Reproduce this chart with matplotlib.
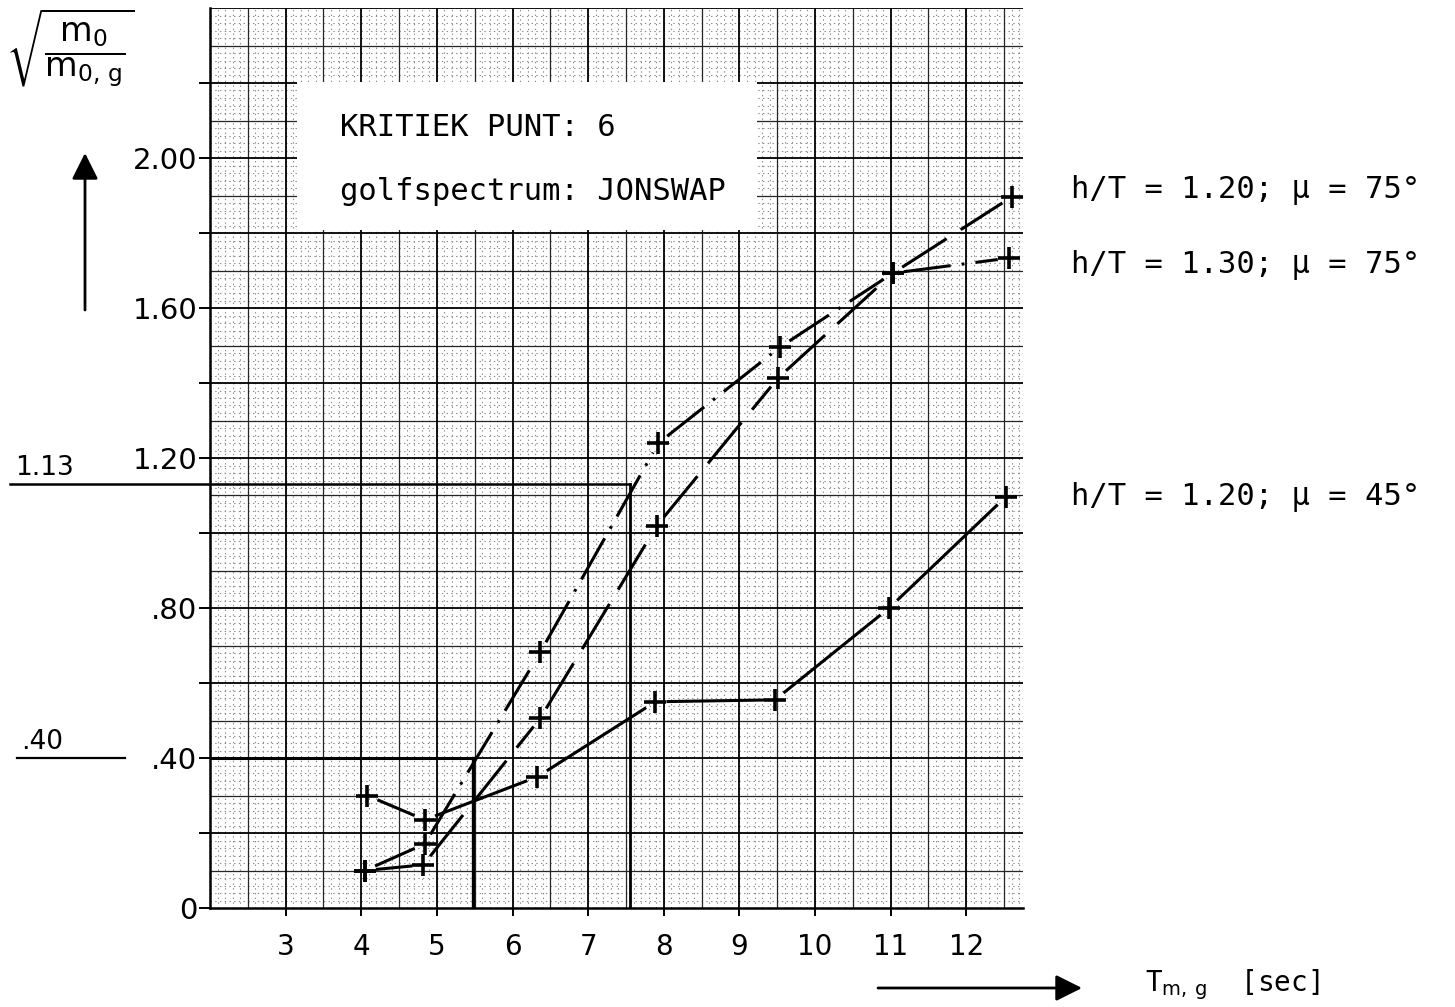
import numpy as np
import matplotlib
matplotlib.use('Agg')
import matplotlib.pyplot as plt
from matplotlib.patches import Rectangle

plt.rcParams['lines.scale_dashes'] = False
plt.rcParams['mathtext.fontset'] = 'dejavusans'

# T_m,g [sec] against sqrt(m0 / m0,g), one list pair per case
t_a = [4.05, 4.82, 6.37, 7.91, 9.51, 11.03, 12.60]
r_a = [0.10, 0.115, 0.507, 1.02, 1.413, 1.693, 1.896]
t_b = [4.05, 4.84, 6.37, 7.93, 9.54, 11.03, 12.56]
r_b = [0.10, 0.171, 0.683, 1.24, 1.496, 1.693, 1.733]
t_c = [4.08, 4.84, 6.33, 7.89, 9.47, 10.98, 12.52]
r_c = [0.30, 0.235, 0.35, 0.55, 0.555, 0.80, 1.096]

case_labels = ['h/T = 1.20; μ = 75°', 'h/T = 1.30; μ = 75°', 'h/T = 1.20; μ = 45°']
label_y = [1.915, 1.715, 1.096]

# read-off values for the critical point
low_t, low_r = 5.48, 0.40
high_t, high_r = 7.55, 1.13

x_ticks = [3, 4, 5, 6, 7, 8, 9, 10, 11, 12]
y_ticks = [0, 0.4, 0.8, 1.2, 1.6, 2.0]
y_ticklabels = ['0', '.40', '.80', '1.20', '1.60', '2.00']

fig = plt.figure(figsize=(14.55, 10.07), dpi=100)
ax = fig.add_axes([210 / 1455, 1 - 908 / 1007, 813 / 1455, 900 / 1007])
ax.set_xlim(2, 12.75)
ax.set_ylim(0, 2.4)

# graph paper: 1 mm dots, 5 mm and 10 mm lines
gx = np.round(np.arange(2, 12.75 + 1e-9, 0.1), 2)
gy = np.round(np.arange(0, 2.4 + 1e-9, 0.02), 2)
ax.vlines(gx, 0, 2.4, colors='0.55', lw=0.8, linestyles=(0, (1, 2.4)), zorder=0)
ax.hlines(gy, 2, 12.75, colors='0.55', lw=0.8, linestyles=(0, (1, 2.4)), zorder=0)
ax.vlines(np.arange(2.5, 12.6, 1.0), 0, 2.4, colors='0.15', lw=0.9, zorder=0.5)
ax.hlines(np.round(np.arange(0.1, 2.4, 0.2), 2), 2, 12.75, colors='0.15', lw=0.9, zorder=0.5)
ax.vlines(np.arange(3, 13, 1.0), 0, 2.4, colors='k', lw=1.3, zorder=0.6)
ax.hlines(np.round(np.arange(0.2, 2.41, 0.2), 2), 2, 12.75, colors='k', lw=1.3, zorder=0.6)

# white title field on the paper
ax.add_patch(Rectangle((3.15, 1.808), 6.085, 0.395, facecolor='white',
                       edgecolor='none', zorder=1))
ax.text(3.72, 2.08, 'KRITIEK PUNT: 6', family='DejaVu Sans Mono', fontsize=22,
        va='center', zorder=2)
ax.text(3.72, 1.91, 'golfspectrum: JONSWAP', family='DejaVu Sans Mono', fontsize=22,
        va='center', zorder=2)


def draw_case(t, r, dashes, gap=11):
    # hand-drawn style: each segment stops short of the plotted crosses
    pts = ax.transData.transform(np.column_stack([t, r]))
    inv = ax.transData.inverted()
    for p, q in zip(pts[:-1], pts[1:]):
        u = (q - p) / np.hypot(*(q - p))
        seg = inv.transform(np.array([p + u * gap, q - u * gap]))
        line, = ax.plot(seg[:, 0], seg[:, 1], color='k', lw=2.2,
                        solid_capstyle='butt', dash_capstyle='butt', zorder=3)
        if dashes:
            line.set_dashes(dashes)
    ax.plot(t, r, ls='none', marker='+', ms=16, mew=2.6, color='k', zorder=4)


draw_case(t_a, r_a, (38, 12))
draw_case(t_b, r_b, (34, 8, 2, 8))
draw_case(t_c, r_c, None)

for lab, y in zip(case_labels, label_y):
    ax.text(13.38, y, lab, family='DejaVu Sans Mono', fontsize=22, va='center')

# critical point read-off lines
ax.plot([-0.65, high_t], [high_r, high_r], color='k', lw=1.8, clip_on=False, zorder=3)
ax.plot([high_t, high_t], [0, high_r], color='k', lw=2.0, zorder=3)
ax.plot([2, low_t], [low_r, low_r], color='k', lw=2.2, zorder=3)
ax.plot([low_t, low_t], [0, low_r], color='k', lw=2.4, zorder=3)
ax.plot([-0.55, 0.88], [low_r, low_r], color='k', lw=1.6, clip_on=False)
ax.text(-0.58, high_r + 0.008, '%.2f' % high_r, fontsize=19, va='bottom')
ax.text(-0.50, low_r + 0.008, ('%.2f' % low_r).lstrip('0'), fontsize=19, va='bottom')

# axes
for s in ['top', 'right']:
    ax.spines[s].set_visible(False)
for s in ['left', 'bottom']:
    ax.spines[s].set_linewidth(1.8)
ax.set_xticks(x_ticks)
ax.set_xticklabels([str(v) for v in x_ticks], fontsize=20)
ax.set_yticks(y_ticks)
ax.set_yticklabels(y_ticklabels, fontsize=21)
ax.set_yticks(np.round(np.arange(0.2, 2.41, 0.4), 2), minor=True)
ax.tick_params(axis='x', direction='out', length=6, width=1.4, pad=12)
ax.tick_params(axis='y', which='both', direction='out', length=8, width=1.4, pad=1)

fig.text(70 / 1455, 1 - 48 / 1007,
         r'$\sqrt{\dfrac{\mathrm{m_0}}{\mathrm{m_{0,\,g}}}}$', fontsize=24,
         ha='center', va='center')
ax.annotate('', xy=(85, 854), xycoords='figure pixels', xytext=(85, 697),
            textcoords='figure pixels',
            arrowprops=dict(arrowstyle='-|>', lw=2, color='k', mutation_scale=40,
                            shrinkA=0, shrinkB=0))
ax.annotate('', xy=(1082, 19), xycoords='figure pixels', xytext=(878, 19),
            textcoords='figure pixels',
            arrowprops=dict(arrowstyle='-|>', lw=2, color='k', mutation_scale=40,
                            shrinkA=0, shrinkB=0))
fig.text(1145 / 1455, 22 / 1007, r'T$_{\mathrm{m,\,g}}$  [sec]', family='DejaVu Sans Mono',
         fontsize=20, va='center')

fig.savefig('out.png', dpi=100)
